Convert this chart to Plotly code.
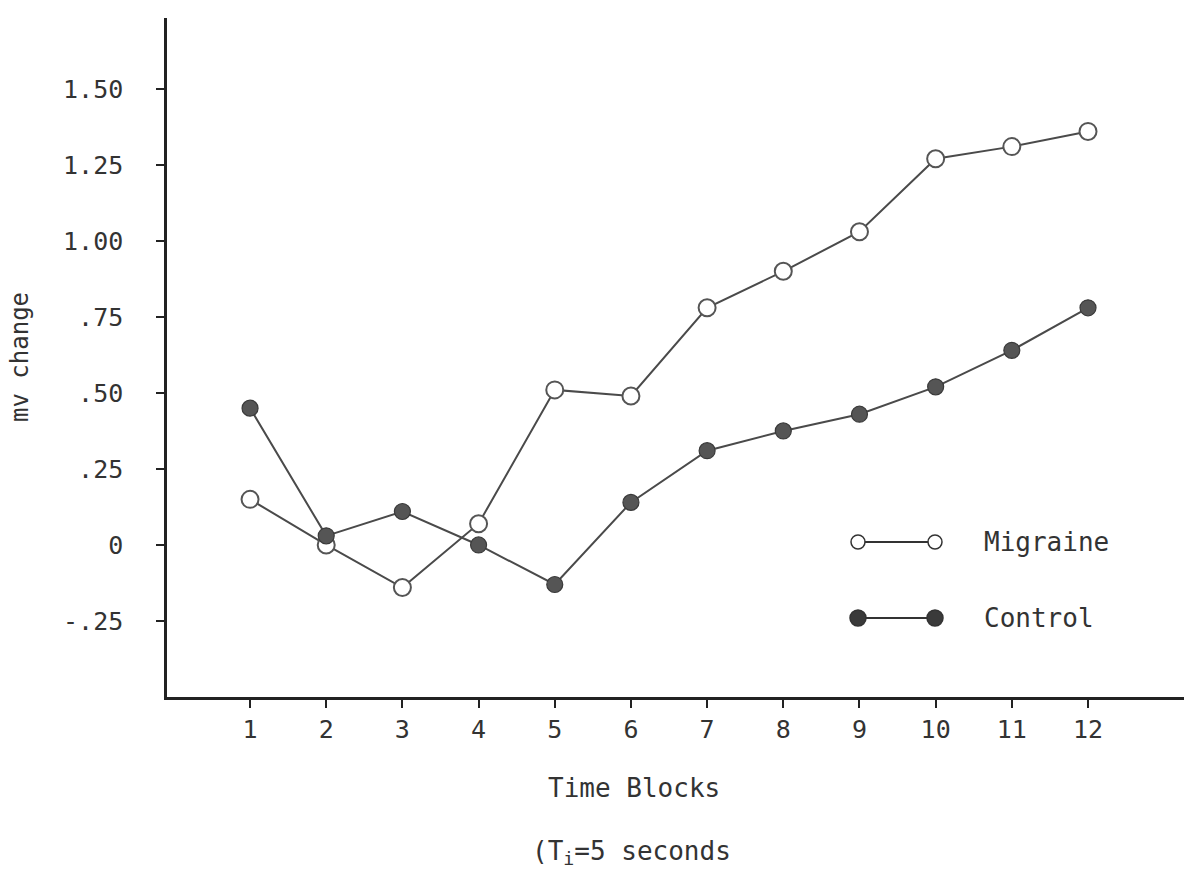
import plotly.graph_objects as go

time_blocks = [1, 2, 3, 4, 5, 6, 7, 8, 9, 10, 11, 12]
migraine = [0.15, 0.0, -0.14, 0.07, 0.51, 0.49, 0.78, 0.90, 1.03, 1.27, 1.31, 1.36]
control = [0.45, 0.03, 0.11, 0.0, -0.13, 0.14, 0.31, 0.375, 0.43, 0.52, 0.64, 0.78]
y_tick_vals = [1.5, 1.25, 1.0, 0.75, 0.5, 0.25, 0.0, -0.25]
y_tick_text = ["1.50", "1.25", "1.00", ".75", ".50", ".25", "0", "-.25"]
x_tick_text = [str(v) for v in time_blocks]

FONT = "DejaVu Sans Mono"
INK = "#333333"
LINE = "#4a4a4a"

fig = go.Figure()
fig.add_trace(go.Scatter(
    x=time_blocks, y=migraine, mode="lines+markers", name="Migraine",
    line=dict(color=LINE, width=2),
    marker=dict(symbol="circle", size=17, color="white", line=dict(color="#555555", width=2)),
))
fig.add_trace(go.Scatter(
    x=time_blocks, y=control, mode="lines+markers", name="Control",
    line=dict(color=LINE, width=2),
    marker=dict(symbol="circle", size=16, color="#555555", line=dict(color="#3a3a3a", width=1.2)),
))

# Legend drawn in paper coordinates
def px_x(px):
    return (px - 167) / (1184 - 167)

def px_y(py):
    return (697 - py) / (697 - 18)

shapes = []
annotations = []
for label, py, filled in [("Migraine", 542, False), ("Control", 618, True)]:
    shapes.append(dict(type="line", xref="paper", yref="paper",
                       x0=px_x(858), x1=px_x(935), y0=px_y(py), y1=px_y(py),
                       line=dict(color="#333333", width=2)))
    r = 8 if filled else 7
    for cx in (858, 935):
        shapes.append(dict(type="circle", xref="paper", yref="paper",
                           x0=px_x(cx - r), x1=px_x(cx + r),
                           y0=px_y(py + r), y1=px_y(py - r),
                           fillcolor="#3a3a3a" if filled else "white",
                           line=dict(color="#333333", width=1.5)))
    annotations.append(dict(text=label, xref="paper", yref="paper",
                            x=px_x(982), y=px_y(py), xanchor="left", yanchor="middle",
                            showarrow=False, font=dict(family=FONT, size=26, color=INK)))

annotations.append(dict(text="mv change", xref="paper", yref="paper",
                        x=px_x(20), y=px_y(357), xanchor="center", yanchor="middle",
                        textangle=-90, showarrow=False,
                        font=dict(family=FONT, size=24, color=INK)))
annotations.append(dict(text="Time Blocks", xref="paper", yref="paper",
                        x=px_x(634), y=px_y(788), xanchor="center", yanchor="middle",
                        showarrow=False, font=dict(family=FONT, size=26, color=INK)))
annotations.append(dict(text="(T<sub>i</sub>=5 seconds", xref="paper", yref="paper",
                        x=px_x(530), y=px_y(852), xanchor="left", yanchor="middle",
                        showarrow=False, font=dict(family=FONT, size=26, color=INK)))

fig.update_layout(
    width=1184, height=878,
    margin=dict(l=167, r=0, t=18, b=181),
    paper_bgcolor="white", plot_bgcolor="white",
    showlegend=False,
    shapes=shapes, annotations=annotations,
    font=dict(family=FONT, color=INK),
)
fig.update_xaxes(
    range=[-0.09, 13.26], tickvals=time_blocks, ticktext=x_tick_text,
    showgrid=False, zeroline=False, showline=True, linecolor="#222222", linewidth=2.5,
    ticks="outside", ticklen=8, tickwidth=1.5, tickcolor="#222222",
    tickfont=dict(family=FONT, size=25, color=INK), ticklabelstandoff=0,
)
fig.update_yaxes(
    range=[-0.5, 1.733], tickvals=y_tick_vals, ticktext=y_tick_text,
    showgrid=False, zeroline=False, showline=True, linecolor="#222222", linewidth=2.5,
    ticks="outside", ticklen=8, tickwidth=1.5, tickcolor="#222222",
    tickfont=dict(family=FONT, size=25, color=INK), ticklabelstandoff=28,
)

fig.write_html("out.html")
